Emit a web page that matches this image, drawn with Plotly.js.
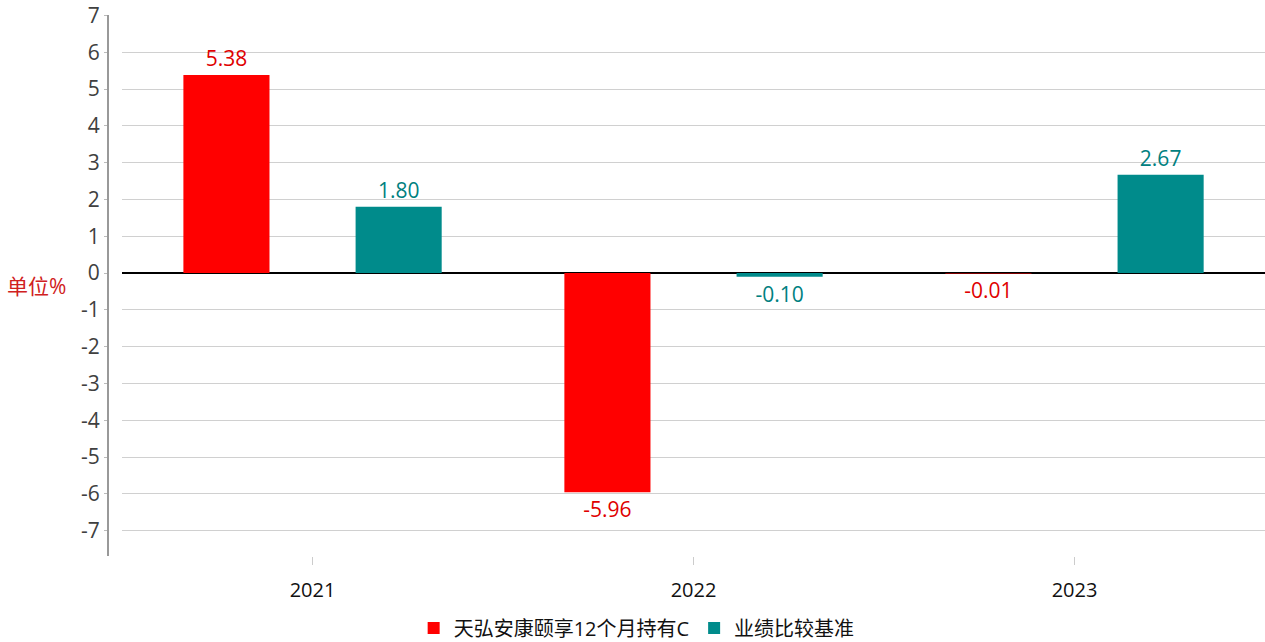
<!DOCTYPE html>
<html>
<head>
<meta charset="utf-8">
<script src="https://cdn.plot.ly/plotly-3.0.1.min.js"></script>
<style>html,body{margin:0;padding:0;background:#fff;}#chart{width:1265px;height:642px;}</style>
</head>
<body>
<div id="chart"></div>
<script>
const categories = ['2021', '2022', '2023'];
const seriesNames = ['天弘安康颐享12个月持有C', '业绩比较基准'];
const fundValues = [5.38, -5.96, -0.01];
const benchValues = [1.80, -0.10, 2.67];
const yTicks = [-7, -6, -5, -4, -3, -2, -1, 0, 1, 2, 3, 4, 5, 6, 7];

const FONT = 'Open Sans, Noto Sans CJK SC, sans-serif';
const RED = '#ff0000';
const TEAL = '#008b8b';

const traces = [
  {
    type: 'bar', name: seriesNames[0], x: categories, y: fundValues,
    marker: {color: RED},
    text: fundValues.map(v => v.toFixed(2)), textposition: 'outside',
    textfont: {color: '#e00000', size: 21, family: FONT},
    cliponaxis: false, hoverinfo: 'x+y'
  },
  {
    type: 'bar', name: seriesNames[1], x: categories, y: benchValues,
    marker: {color: TEAL},
    text: benchValues.map(v => v.toFixed(2)), textposition: 'outside',
    textfont: {color: '#008080', size: 21, family: FONT},
    cliponaxis: false, hoverinfo: 'x+y'
  }
];

const layout = {
  width: 1265, height: 642,
  margin: {l: 107, r: 0, t: 15, b: 86},
  paper_bgcolor: '#fff', plot_bgcolor: '#fff',
  font: {family: FONT, color: '#222'},
  barmode: 'group', bargap: 0.096, bargroupgap: 0.5,
  showlegend: true,
  legend: {
    orientation: 'h', xref: 'container', yref: 'container',
    x: 0.327, xanchor: 'left', y: 0.022, yanchor: 'middle',
    font: {size: 20, color: '#111', family: FONT}, itemwidth: 30, traceorder: 'normal'
  },
  xaxis: {
    domain: [0.013, 1], type: 'category', range: [-0.5, 2.5],
    showgrid: false, showline: false, zeroline: false,
    ticks: 'outside', ticklen: 8, tickcolor: '#cccccc', tickwidth: 1,
    ticklabelstandoff: 8,
    tickfont: {size: 20, color: '#111', family: FONT}
  },
  yaxis: {
    anchor: 'free', position: 0,
    range: [-7.69, 7.014], tickvals: yTicks, ticktext: yTicks.map(String),
    showgrid: true, gridcolor: '#d0d0d0', gridwidth: 1,
    zeroline: true, zerolinecolor: '#000', zerolinewidth: 2,
    showline: true, linecolor: '#999', linewidth: 1.5,
    ticks: 'outside', ticklen: 3, tickcolor: '#bbb',
    tickfont: {size: 21, color: '#404040', family: FONT}
  },
  annotations: [{
    text: '单位%', xref: 'paper', yref: 'y', x: -0.088, y: -0.35, xanchor: 'left', yanchor: 'middle',
    showarrow: false, font: {size: 21, color: '#d02020', family: FONT}
  }]
};

Plotly.newPlot('chart', traces, layout, {displayModeBar: false, staticPlot: true});
</script>
</body>
</html>
